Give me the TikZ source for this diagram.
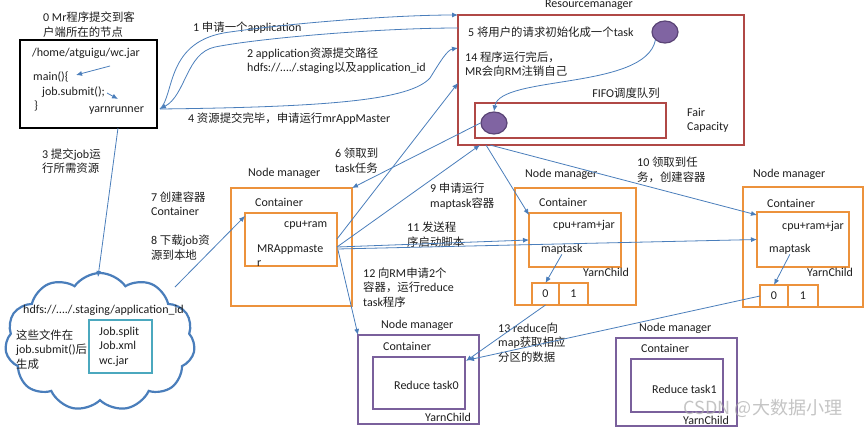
\documentclass[tikz,border=0pt]{standalone}
\usepackage{fontspec}
\setmainfont{Carlito}
\newfontfamily\cjk{Noto Sans CJK SC}[Scale=0.95]
\newcommand\zh[1]{{\cjk #1}}
\usetikzlibrary{arrows.meta,shapes.symbols,shapes.geometric,calc}
\definecolor{arrowblue}{RGB}{74,126,187}
\definecolor{rmred}{RGB}{176,72,70}
\definecolor{nmorange}{RGB}{236,146,60}
\definecolor{rpurple}{RGB}{122,96,156}
\definecolor{dotfill}{RGB}{128,100,162}
\definecolor{dotedge}{RGB}{90,68,118}
\definecolor{tealbox}{RGB}{75,168,190}
\definecolor{txt}{RGB}{30,30,30}
\begin{document}
\begin{tikzpicture}[x=1pt,y=-1pt,
  every node/.style={font=\fontsize{12}{14.5}\selectfont, text=txt, inner sep=0pt},
  lbl/.style={anchor=west, align=left},
  box/.style={draw, line width=2.6pt, anchor=north west, inner sep=0pt, outer sep=0pt},
  arr/.style={draw=arrowblue, line width=0.8pt, -{Latex[length=6pt,width=5pt]}},
  dot/.style={ellipse, draw=dotedge, fill=dotfill, line width=1.2pt, minimum width=26pt, minimum height=22pt},
]
\useasboundingbox (0,0) rectangle (865,429);
\fill[white] (0,0) rectangle (865,429);

% ---------- client ----------
\node[lbl] (t0) at (43,24.5) {0 Mr\zh{程序提交到客}\\\zh{户端所在的节点}};
\node[box, draw=black, minimum width=137pt, minimum height=88pt] (client) at (20,40) {};
\node[lbl] (wc) at (32,53) {/home/atguigu/wc.jar};
\node[lbl] (main) at (33,77) {main()\{};
\node[lbl] (sub) at (42,92) {job.submit();};
\node[lbl] (cb) at (34,106) {\}};
\node[lbl] (yr) at (89,111) {yarnrunner};
\coordinate (s1a) at (110,66);
\coordinate (s1b) at (76,75);
\coordinate (s2a) at (107,93);
\coordinate (s2b) at (118,99);
\draw[arr] (s1a) -- (s1b);
\draw[arr] (s2a) -- (s2b);
\coordinate (yrtip) at (160,109);

% ---------- resource manager ----------
\node[box, draw=rmred, minimum width=286pt, minimum height=130pt] (rm) at (458,15) {};
\node (rmt) at (589,5) {Resourcemanager};
\node[lbl] (t5) at (468,32) {5 \zh{将用户的请求初始化成一个}task};
\node[dot] (e1) at (665,32) {};
\node[lbl] (t14) at (465,64) {14 \zh{程序运行完后，}\\MR\zh{会向}RM\zh{注销自己}};
\node (fifot) at (626,93) {FIFO\zh{调度队列}};
\node[box, draw=rmred, minimum width=191pt, minimum height=35pt] (fifo) at (475,103) {};
\node[dot] (e2) at (494,123) {};
\node[lbl] (fair) at (687,120.5) {Fair\\Capacity};
\draw[arr] (e1.south west) .. controls (645,90) and (500,75) .. (e2.north);

% ---------- labels on client/RM arrows ----------
\node[lbl] (l1) at (193,28) {1 \zh{申请一个}application};
\node[lbl] (l2) at (247,60.5) {2 application\zh{资源提交路径}\\hdfs://…./.staging\zh{以及}application\_id};
\node[lbl] (l4) at (188,119) {4 \zh{资源提交完毕，申请运行}mrAppMaster};

\coordinate (rmB) at (458,28);
\coordinate (rmC) at (458,48);
\draw[arr] (yrtip) .. controls (175,95) and (165,40) .. (230,32) .. controls (300,22) and (400,15) .. (rm.north west);
\draw[arr] (rmB) .. controls (380,28) and (260,38) .. (215,47) .. controls (186,53) and (186,95) .. (yrtip);
\draw[arr] (yrtip) .. controls (330,107) and (410,100) .. (430,78) .. controls (440,62) and (447,50) .. (rmC);

% ---------- cloud ----------
\node[cloud, draw=arrowblue, line width=2.2pt, cloud puffs=11, cloud puff arc=110, aspect=1.4,
      minimum width=190pt, minimum height=138pt] (cloud) at (100,342) {};
\node[lbl] (hd) at (23,310) {hdfs://…./.staging/application\_id};
\node[lbl] (gen) at (16,349.5) {\zh{这些文件在}\\job.submit()\zh{后}\\\zh{生成}};
\node[box, draw=tealbox, minimum width=63pt, minimum height=53pt] (teal) at (89,320) {};
\node[lbl] (files) at (99,346.5) {Job.split\\Job.xml\\wc.jar};

\node[lbl] (l3) at (42,161) {3 \zh{提交}job\zh{运}\\\zh{行所需资源}};
\node[lbl] (l7) at (151,203.5) {7 \zh{创建容器}\\Container};
\node[lbl] (l8) at (151,247.5) {8 \zh{下载}job\zh{资}\\\zh{源到本地}};
\coordinate (c3s) at (118,128);
\coordinate (cloudtop) at (98,277);
\draw[arr] (c3s) -- (cloudtop);

% ---------- node manager 1 ----------
\node[lbl] (nm1t) at (248,173) {Node manager};
\node[box, draw=nmorange, minimum width=121pt, minimum height=118pt] (nm1) at (231,188) {};
\node[lbl] (cont1) at (255,202) {Container};
\node[box, draw=nmorange, minimum width=92pt, minimum height=53pt] (c1) at (245,213) {};
\node[lbl] (cr1) at (284,225) {cpu+ram};
\node[lbl] (mr) at (257,255.5) {MRAppmaste\\r};
\coordinate (cldr) at (175,287);
\draw[arr] (cldr) -- ($(c1.north west)+(0,3)$);

% ---------- node manager 2 ----------
\node[lbl] (nm2t) at (525,174) {Node manager};
\node[box, draw=nmorange, minimum width=121pt, minimum height=117pt] (nm2) at (515,188) {};
\node[lbl] (cont2) at (539,202) {Container};
\node[box, draw=nmorange, minimum width=92pt, minimum height=54pt] (c2) at (529,213) {};
\node[lbl] (cr2) at (553,225) {cpu+ram+jar};
\node[lbl] (mt2) at (541,249) {maptask};
\node[lbl] (yc2) at (583,272) {YarnChild};
\node[box, draw=nmorange, minimum width=27pt, minimum height=22pt] (p20) at (532,283) {0};
\node[box, draw=nmorange, minimum width=29pt, minimum height=22pt] (p21) at (559,283) {1};
\draw[arr] (mt2.south) -- (p20.north);

% ---------- node manager 3 ----------
\node[lbl] (nm3t) at (753,174) {Node manager};
\node[box, draw=nmorange, minimum width=120pt, minimum height=120pt] (nm3) at (743,187) {};
\node[lbl] (cont3) at (767,203) {Container};
\node[box, draw=nmorange, minimum width=92pt, minimum height=55pt] (c3) at (757,212) {};
\node[lbl] (cr3) at (782,226) {cpu+ram+jar};
\node[lbl] (mt3) at (769,249) {maptask};
\node[lbl] (yc3) at (807,272) {YarnChild};
\node[box, draw=nmorange, minimum width=28pt, minimum height=22pt] (p30) at (760,285) {0};
\node[box, draw=nmorange, minimum width=30pt, minimum height=22pt] (p31) at (788,285) {1};
\draw[arr] (mt3.south) -- (p30.north);

% ---------- reduce node managers ----------
\node[lbl] (r0t) at (381,325) {Node manager};
\node[box, draw=rpurple, minimum width=121pt, minimum height=89pt] (r0) at (358,335) {};
\node[lbl] (r0c) at (383,346) {Container};
\node[box, draw=rpurple, minimum width=92pt, minimum height=52pt] (r0i) at (373,357) {};
\node[lbl] (r0x) at (394,385) {Reduce task0};
\node[lbl] (r0y) at (425,417) {YarnChild};

\node[lbl] (r1t) at (639,328) {Node manager};
\node[box, draw=rpurple, minimum width=121pt, minimum height=88pt] (r1) at (616,338) {};
\node[lbl] (r1c) at (641,348) {Container};
\node[box, draw=rpurple, minimum width=92pt, minimum height=53pt] (r1i) at (631,359) {};
\node[lbl] (r1x) at (652,389) {Reduce task1};
\node[lbl] (r1y) at (683,420) {YarnChild};

% ---------- middle labels ----------
\node[lbl] (l6) at (335,160.5) {6 \zh{领取到}\\task\zh{任务}};
\node[lbl] (l9) at (430,196) {9 \zh{申请运行}\\maptask\zh{容器}};
\node[lbl] (l10) at (637,170) {10 \zh{领取到任}\\\zh{务，创建容器}};
\node[lbl] (l11) at (407,234.5) {11 \zh{发送程}\\\zh{序启动脚本}};
\node[lbl] (l12) at (363,287.5) {12 \zh{向}RM\zh{申请}2\zh{个}\\\zh{容器，运行}reduce\\task\zh{程序}};
\node[lbl] (l13) at (498,342.5) {13 reduce\zh{向}\\map\zh{获取相应}\\\zh{分区的数据}};

% ---------- middle connectors ----------
\coordinate (mrA) at (337,239);
\coordinate (mrB) at (337,247);
\coordinate (rm14) at (458,83);
\draw[arr] (e2.west) -- (nm1.north east);
\draw[arr] (mrA) -- (rm14);
\draw[arr] (mrB) -- ($(rm.south west)+(22,0)$);
\draw[arr] (mrB) -- (c2.west);
\draw[arr] ($(mrB)+(0,2)$) -- (c3.west);
\draw[arr] ($(mrB)+(1,3)$) -- (r0.north west);
\draw[arr] ($(rm.south west)+(28,0)$) -- ($(c2.north west)+(0,2)$);
\draw[arr] ($(rm.south west)+(32,0)$) -- ($(c3.north west)+(0,3)$);
\draw[arr] (p20.south) -- ($(r0i.north east)+(1,4)$);
\draw[arr] (p30.west) -- ($(r0i.north east)+(3,3)$);

% ---------- watermark ----------
\node[font=\cjk\fontsize{19}{19}\selectfont, text=gray!65, opacity=0.7] (wm) at (763,408) {CSDN @大数据小理};
\end{tikzpicture}
\end{document}
